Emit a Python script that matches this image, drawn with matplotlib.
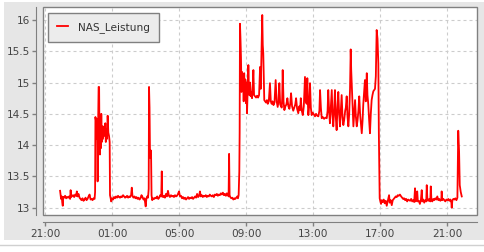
import matplotlib
matplotlib.use("Agg")
import matplotlib.pyplot as plt
import matplotlib.dates as mdates
from matplotlib.patches import Rectangle
from matplotlib.ticker import FuncFormatter
import numpy as np
import pandas as pd

# Messwerte: (Stunden seit 21:00 Vortag, Wert)
nacht_1 = [
    (0.90, 13.27), (0.93, 13.20), (0.96, 13.14), (1.00, 13.18), (1.03, 13.08), (1.06, 13.03),
    (1.09, 13.17), (1.14, 13.16), (1.20, 13.19), (1.26, 13.15), (1.32, 13.17), (1.38, 13.16),
    (1.44, 13.18), (1.50, 13.14), (1.53, 13.28), (1.56, 13.17), (1.62, 13.19), (1.68, 13.20),
    (1.74, 13.17), (1.80, 13.21), (1.86, 13.19), (1.90, 13.26), (1.94, 13.18), (2.00, 13.22),
    (2.06, 13.16), (2.12, 13.14), (2.18, 13.12), (2.24, 13.15), (2.30, 13.11), (2.36, 13.13),
    (2.42, 13.16), (2.48, 13.12), (2.54, 13.14), (2.60, 13.18), (2.66, 13.21), (2.72, 13.13),
    (2.78, 13.14), (2.84, 13.12), (2.90, 13.15), (2.96, 13.14),
]
spitze_1 = [
    (2.99, 13.25), (3.01, 14.45), (3.05, 14.38), (3.08, 14.10), (3.11, 14.42), (3.14, 13.42),
    (3.17, 14.30), (3.20, 14.93), (3.23, 14.93), (3.25, 14.20), (3.28, 13.85), (3.30, 14.45),
    (3.33, 13.95), (3.36, 14.50), (3.39, 14.05), (3.42, 14.30), (3.46, 14.10), (3.50, 14.22),
    (3.53, 14.30), (3.56, 14.15), (3.60, 14.35), (3.63, 14.05), (3.66, 14.25), (3.70, 14.10),
    (3.74, 14.47), (3.78, 14.20), (3.82, 14.15), (3.86, 14.05), (3.88, 13.20), (3.92, 13.15),
]
nacht_2 = [
    (3.95, 13.10), (4.00, 13.15), (4.06, 13.13), (4.12, 13.17), (4.18, 13.15), (4.24, 13.18),
    (4.30, 13.16), (4.36, 13.19), (4.42, 13.17), (4.48, 13.16), (4.54, 13.18), (4.60, 13.17),
    (4.66, 13.20), (4.72, 13.18), (4.78, 13.16), (4.84, 13.17), (4.90, 13.19), (4.96, 13.16),
    (5.02, 13.18), (5.08, 13.17), (5.14, 13.20), (5.18, 13.32), (5.22, 13.19), (5.28, 13.16),
    (5.34, 13.18), (5.40, 13.15), (5.46, 13.17), (5.52, 13.14), (5.58, 13.16), (5.64, 13.13),
    (5.70, 13.15), (5.76, 13.20), (5.82, 13.17), (5.88, 13.13), (5.94, 13.15), (5.98, 13.08),
    (6.01, 13.02), (6.05, 13.14), (6.10, 13.18), (6.15, 13.16), (6.19, 13.30), (6.21, 14.93),
    (6.24, 14.60), (6.27, 13.80), (6.30, 13.92), (6.33, 13.90), (6.36, 13.20), (6.40, 13.12),
]
morgen = [
    (6.46, 13.15), (6.52, 13.14), (6.58, 13.16), (6.64, 13.15), (6.70, 13.18), (6.76, 13.14),
    (6.82, 13.16), (6.88, 13.20), (6.94, 13.18), (6.97, 13.58), (7.00, 13.18), (7.05, 13.17),
    (7.10, 13.19), (7.16, 13.16), (7.22, 13.22), (7.28, 13.18), (7.34, 13.27), (7.40, 13.19),
    (7.46, 13.17), (7.52, 13.20), (7.58, 13.18), (7.64, 13.19), (7.70, 13.17), (7.76, 13.20),
    (7.82, 13.18), (7.88, 13.19), (7.94, 13.22), (8.00, 13.26), (8.06, 13.18), (8.12, 13.19),
    (8.18, 13.15), (8.24, 13.17), (8.30, 13.14), (8.36, 13.16), (8.42, 13.13), (8.48, 13.15),
    (8.54, 13.17), (8.60, 13.14), (8.66, 13.16), (8.72, 13.15), (8.78, 13.17), (8.84, 13.14),
    (8.90, 13.16), (8.96, 13.18), (9.02, 13.16), (9.08, 13.22), (9.14, 13.17), (9.20, 13.19),
    (9.25, 13.26), (9.30, 13.18), (9.36, 13.20), (9.42, 13.17), (9.48, 13.19), (9.54, 13.18),
    (9.60, 13.20), (9.66, 13.17), (9.72, 13.19), (9.78, 13.18), (9.84, 13.21), (9.90, 13.19),
    (9.96, 13.18), (10.02, 13.20), (10.08, 13.17), (10.14, 13.21), (10.20, 13.20), (10.26, 13.22),
    (10.32, 13.19), (10.38, 13.21), (10.44, 13.20), (10.50, 13.23), (10.56, 13.21), (10.62, 13.24),
    (10.68, 13.20), (10.74, 13.22), (10.80, 13.19), (10.86, 13.23), (10.92, 13.21), (10.96, 13.18),
    (10.99, 13.86), (11.02, 13.20), (11.06, 13.17), (11.12, 13.15), (11.18, 13.16), (11.24, 13.13),
    (11.30, 13.15), (11.36, 13.14), (11.42, 13.16), (11.48, 13.18), (11.52, 13.15), (11.56, 13.20),
    (11.60, 13.58), (11.62, 14.20),
]
tag = [
    (11.64, 15.94), (11.67, 15.70), (11.70, 15.40), (11.73, 14.85), (11.76, 15.17), (11.80, 14.90),
    (11.83, 15.12), (11.86, 14.70), (11.89, 15.15), (11.92, 14.83), (11.96, 15.05), (12.00, 14.67),
    (12.03, 15.00), (12.06, 14.51), (12.09, 14.80), (12.12, 14.95), (12.14, 15.28), (12.17, 14.90),
    (12.20, 14.80), (12.24, 15.00), (12.28, 14.78), (12.32, 14.85), (12.36, 14.75), (12.40, 14.95),
    (12.44, 15.20), (12.48, 14.80), (12.54, 14.78), (12.60, 14.76), (12.66, 14.79), (12.72, 14.76),
    (12.78, 14.80), (12.84, 15.25), (12.88, 14.90), (12.92, 15.45), (12.97, 16.08), (13.00, 15.60),
    (13.03, 15.47), (13.06, 15.10), (13.09, 14.72), (13.14, 14.70), (13.20, 14.68), (13.25, 14.72),
    (13.30, 14.66), (13.36, 14.70), (13.43, 14.99), (13.48, 14.70), (13.53, 14.66), (13.58, 14.70),
    (13.64, 14.64), (13.70, 14.68), (13.77, 15.04), (13.83, 14.70), (13.89, 14.61), (13.94, 14.70),
    (13.99, 14.99), (14.04, 14.65), (14.09, 14.62), (14.13, 14.60), (14.16, 14.75), (14.19, 15.20),
    (14.24, 14.70), (14.29, 14.56), (14.35, 14.62), (14.41, 14.65), (14.47, 14.75), (14.53, 14.62),
    (14.59, 14.58), (14.64, 14.66), (14.69, 14.83), (14.75, 14.62), (14.82, 14.55), (14.88, 14.60),
    (14.94, 14.65), (14.99, 14.75), (15.05, 14.58), (15.12, 14.51), (15.18, 14.62), (15.23, 14.56),
    (15.27, 14.75), (15.33, 14.55), (15.39, 14.48), (15.45, 14.62), (15.52, 15.09), (15.57, 14.70),
    (15.62, 14.66), (15.66, 15.07), (15.69, 14.70), (15.72, 14.48), (15.77, 14.62), (15.82, 14.99),
    (15.87, 14.60), (15.92, 14.48), (15.98, 14.52), (16.05, 14.49), (16.12, 14.46), (16.18, 14.50),
    (16.25, 14.47), (16.32, 14.46), (16.38, 14.55), (16.42, 14.88), (16.47, 14.60), (16.52, 14.43),
    (16.58, 14.45), (16.66, 14.42), (16.74, 14.44), (16.82, 14.43), (16.87, 14.55), (16.91, 14.88),
    (16.96, 14.55), (17.01, 14.35), (17.06, 14.60), (17.12, 14.88), (17.16, 14.50), (17.21, 14.30),
    (17.26, 14.55), (17.31, 14.88), (17.36, 14.45), (17.41, 14.24), (17.46, 14.60), (17.51, 14.85),
    (17.56, 14.50), (17.61, 14.30), (17.66, 14.55), (17.71, 14.80), (17.76, 14.45), (17.81, 14.32),
    (17.86, 14.40), (17.92, 14.55), (17.96, 14.60), (18.01, 14.78), (18.06, 14.45), (18.11, 14.30),
    (18.16, 14.50), (18.21, 14.90), (18.25, 15.53), (18.28, 15.20), (18.31, 14.99), (18.36, 14.60),
    (18.41, 14.30), (18.46, 14.50), (18.51, 14.72), (18.56, 14.45), (18.61, 14.30), (18.66, 14.40),
    (18.71, 14.55), (18.76, 14.78), (18.81, 14.50), (18.86, 14.35), (18.91, 14.19), (18.96, 14.40),
    (19.00, 14.65), (19.05, 14.85), (19.10, 15.04), (19.15, 14.70), (19.21, 15.15), (19.25, 14.80),
    (19.30, 14.65), (19.35, 14.40), (19.40, 14.19), (19.45, 14.50), (19.50, 14.72), (19.55, 14.80),
    (19.60, 14.86), (19.65, 14.88), (19.70, 14.90), (19.75, 15.10), (19.80, 15.84), (19.85, 15.70),
    (19.90, 15.30), (19.93, 14.20), (19.96, 13.48),
]
abend = [
    (19.98, 13.15), (20.02, 13.10), (20.06, 13.06), (20.10, 13.12), (20.16, 13.09), (20.22, 13.13),
    (20.28, 13.07), (20.34, 13.11), (20.40, 13.03), (20.46, 13.10), (20.54, 13.20), (20.58, 13.08),
    (20.64, 13.12), (20.70, 13.04), (20.76, 13.12), (20.82, 13.14), (20.88, 13.16), (20.94, 13.18),
    (21.00, 13.17), (21.06, 13.20), (21.12, 13.19), (21.19, 13.21), (21.26, 13.18), (21.32, 13.16),
    (21.38, 13.14), (21.44, 13.15), (21.50, 13.12), (21.56, 13.14), (21.62, 13.10), (21.68, 13.13),
    (21.74, 13.12), (21.80, 13.11), (21.86, 13.14), (21.92, 13.10), (21.98, 13.12), (22.04, 13.09),
    (22.09, 13.31), (22.13, 13.10), (22.18, 13.12), (22.22, 13.26), (22.26, 13.10), (22.32, 13.11),
    (22.38, 13.06), (22.44, 13.12), (22.49, 13.28), (22.53, 13.10), (22.58, 13.13), (22.64, 13.08),
    (22.70, 13.12), (22.76, 13.10), (22.79, 13.36), (22.83, 13.12), (22.88, 13.11), (22.94, 13.14),
    (23.00, 13.10), (23.03, 13.34), (23.07, 13.12), (23.12, 13.10), (23.18, 13.14), (23.24, 13.12),
    (23.30, 13.15), (23.36, 13.13), (23.42, 13.18), (23.48, 13.12), (23.54, 13.14), (23.60, 13.11),
    (23.66, 13.13), (23.68, 13.26), (23.72, 13.12), (23.78, 13.14), (23.84, 13.12), (23.90, 13.10),
    (23.96, 13.13), (24.02, 13.12), (24.08, 13.14), (24.14, 13.11), (24.20, 13.13), (24.26, 13.08),
    (24.28, 13.00), (24.32, 13.12), (24.38, 13.14), (24.44, 13.13), (24.50, 13.15), (24.56, 13.12),
    (24.62, 13.16), (24.67, 14.23), (24.72, 13.90), (24.76, 13.36), (24.82, 13.25), (24.88, 13.18),
]

y_ticks = [13, 13.5, 14, 14.5, 15, 15.5, 16]
serie_name = "NAS_Leistung"

daten = np.array(nacht_1 + spitze_1 + nacht_2 + morgen + tag + abend)
start = pd.Timestamp("2024-01-01 21:00")
zeit = start + pd.to_timedelta(daten[:, 0], unit="h")
wert = daten[:, 1]

fig = plt.figure(figsize=(4.85, 2.52), dpi=100, facecolor="white")
# grauer Hintergrund wie im Original
fig.patches.append(Rectangle((4 / 485, 1 - 240 / 252), 481 / 485, 238 / 252,
                             transform=fig.transFigure, facecolor="#e6e6e6",
                             edgecolor="none", zorder=-10))
fig.lines.append(plt.Line2D([0, 1], [1 - 245 / 252] * 2, transform=fig.transFigure,
                            color="#d0d0d0", lw=1, zorder=-10))

ax = fig.add_axes([43 / 485, 1 - 215 / 252, 434 / 485, 208 / 252])
ax.set_facecolor("white")

ax.plot(zeit, wert, color="#ff0000", lw=1.3, label=serie_name, zorder=3)

ax.set_xlim(start + pd.Timedelta(hours=-0.12), start + pd.Timedelta(hours=25.79))
ax.set_ylim(12.883, 16.208)
ax.set_yticks(y_ticks)
ax.yaxis.set_major_formatter(FuncFormatter(lambda v, p: "%g" % v))
ax.xaxis.set_major_locator(mdates.HourLocator(byhour=[1, 5, 9, 13, 17, 21]))
ax.xaxis.set_major_formatter(mdates.DateFormatter("%H:%M"))

ax.grid(True, color="#cccccc", lw=0.8, linestyle=(0, (2.7, 2.7)))
ax.set_axisbelow(True)

for s in ["top", "right"]:
    ax.spines[s].set_visible(False)
for s in ["left", "bottom"]:
    ax.spines[s].set_position(("outward", 5))
    ax.spines[s].set_color("#808080")
ax.add_patch(Rectangle((0, 0), 1, 1, transform=ax.transAxes, fill=False,
                       edgecolor="#808080", lw=1, clip_on=False, zorder=4))

ax.tick_params(axis="both", colors="#808080", labelcolor="#444444",
               labelsize=7.6, length=3, width=1)
ax.tick_params(axis="y", pad=1.5)
ax.tick_params(axis="x", pad=2)

leg = ax.legend(loc="upper left", bbox_to_anchor=(5 / 434, 1 - 6 / 208),
                borderaxespad=0, fontsize=7.6, handlelength=1.0, handletextpad=1.0,
                borderpad=0.85, fancybox=False, framealpha=1)
leg.get_frame().set_facecolor("#ececec")
leg.get_frame().set_edgecolor("#808080")
for t in leg.get_texts():
    t.set_color("#333333")

fig.savefig("out.png", dpi=100, facecolor=fig.get_facecolor())
